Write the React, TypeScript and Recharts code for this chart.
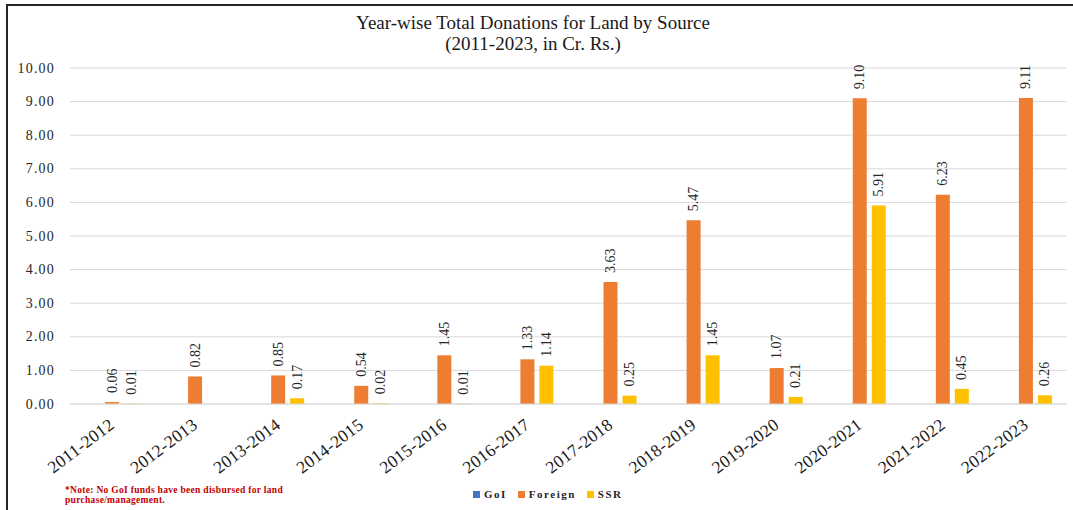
import { BarChart, Bar, XAxis, YAxis, CartesianGrid, LabelList } from 'recharts';

const years = [
  '2011-2012', '2012-2013', '2013-2014', '2014-2015', '2015-2016', '2016-2017',
  '2017-2018', '2018-2019', '2019-2020', '2020-2021', '2021-2022', '2022-2023',
];
const goi = [0, 0, 0, 0, 0, 0, 0, 0, 0, 0, 0, 0];
const foreign = [0.06, 0.82, 0.85, 0.54, 1.45, 1.33, 3.63, 5.47, 1.07, 9.1, 6.23, 9.11];
const ssr = [0.01, 0.0, 0.17, 0.02, 0.01, 1.14, 0.25, 1.45, 0.21, 5.91, 0.45, 0.26];
const yTicks = [0, 1, 2, 3, 4, 5, 6, 7, 8, 9, 10];

const series = [
  { key: 'goi', name: 'GoI', color: '#4472C4', labels: false },
  { key: 'foreign', name: 'Foreign', color: '#ED7D31', labels: true },
  { key: 'ssr', name: 'SSR', color: '#FFC000', labels: true },
];

const data = years.map((year, i) => ({
  year,
  goi: goi[i],
  foreign: foreign[i],
  ssr: ssr[i],
}));

const serif = '"Liberation Serif", "Times New Roman", serif';

function ValueLabel(props: any) {
  const { x, y, width, value } = props;
  const cx = Number(x) + Number(width) / 2;
  const ty = Number(y) - 9;
  return (
    <g transform={`translate(${cx}, ${ty})`}>
      <text
        transform="rotate(-90)"
        textAnchor="start"
        dominantBaseline="central"
        style={{ fontFamily: serif, fontSize: 14, fill: '#262626' }}
      >
        {Number(value).toFixed(2)}
      </text>
    </g>
  );
}

function XTick(props: any) {
  const { x, y, payload } = props;
  return (
    <g transform={`translate(${x + 4}, ${y + 15})`}>
      <text
        transform="rotate(-37)"
        textAnchor="end"
        style={{ fontFamily: serif, fontSize: 17.5, letterSpacing: 0.3, fill: '#1a1a1a' }}
      >
        {payload.value}
      </text>
    </g>
  );
}

function YTick(props: any) {
  const { y, payload } = props;
  return (
    <text
      x={55}
      y={y}
      textAnchor="end"
      dominantBaseline="central"
      style={{ fontFamily: serif, fontSize: 14, letterSpacing: 1.2, fill: '#262626' }}
    >
      {Number(payload.value).toFixed(2)}
    </text>
  );
}

export default function App() {
  return (
    <div style={{ position: 'absolute', left: 0, top: 0, width: 1073, height: 510, background: '#fff', overflow: 'hidden' }}>
      <div
        style={{
          position: 'absolute', left: 6, top: 4, width: 1067, height: 506,
          borderLeft: '2px solid #262626', borderTop: '2px solid #262626',
        }}
      />
      <div
        style={{
          position: 'absolute', left: 0, top: 12, width: 1066, textAlign: 'center',
          fontFamily: serif, fontSize: 19, lineHeight: '21px', color: '#1a1a1a',
        }}
      >
        Year-wise Total Donations for Land by Source
        <br />
        (2011-2023, in Cr. Rs.)
      </div>
      <div style={{ position: 'absolute', left: 0, top: 0 }}>
        <BarChart
          width={1073}
          height={510}
          data={data}
          margin={{ top: 68, right: 6, left: 0, bottom: 36 }}
          barSize={14}
          barGap={5}
        >
          <CartesianGrid vertical={false} stroke="#d9d9d9" />
          <XAxis
            dataKey="year"
            interval={0}
            tickLine={false}
            axisLine={{ stroke: '#d9d9d9' }}
            height={70}
            tick={<XTick />}
          />
          <YAxis
            domain={[0, 10]}
            ticks={yTicks}
            width={70}
            axisLine={false}
            tickLine={false}
            tick={<YTick />}
          />
          {series.map((s) => (
            <Bar key={s.key} dataKey={s.key} name={s.name} fill={s.color} isAnimationActive={false}>
              {s.labels && <LabelList dataKey={s.key} content={<ValueLabel />} />}
            </Bar>
          ))}
        </BarChart>
      </div>
      <div
        style={{
          position: 'absolute', left: 65, top: 485, color: '#C00000',
          fontFamily: serif, fontSize: 9.5, fontWeight: 'bold', lineHeight: '10px', letterSpacing: 0.3,
        }}
      >
        *Note: No GoI funds have been disbursed for land
        <br />
        purchase/management.
      </div>
      <div
        style={{
          position: 'absolute', left: 473, top: 488, display: 'flex', alignItems: 'center',
          fontFamily: serif, fontSize: 11, fontWeight: 'bold', letterSpacing: 1.5, color: '#262626',
        }}
      >
        {series.map((s) => (
          <div key={s.key} style={{ display: 'flex', alignItems: 'center', marginRight: 11 }}>
            <span style={{ display: 'inline-block', width: 7, height: 7, background: s.color, marginRight: 4 }} />
            <span>{s.name}</span>
          </div>
        ))}
      </div>
    </div>
  );
}
